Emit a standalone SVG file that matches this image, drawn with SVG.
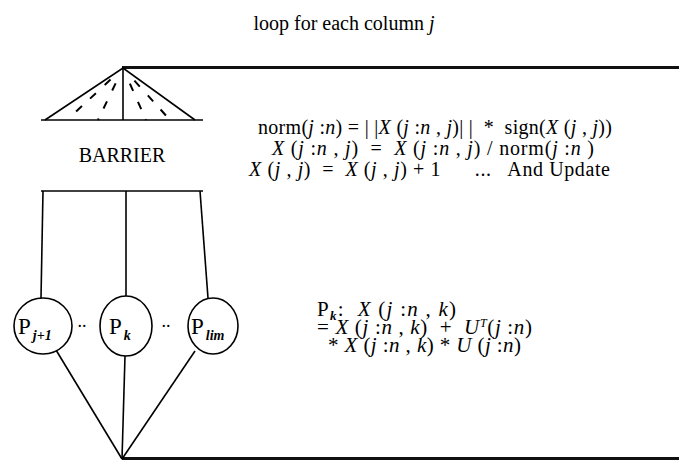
<svg xmlns="http://www.w3.org/2000/svg" width="679" height="461" viewBox="0 0 679 461" xml:space="preserve">
<style>
text{font-family:"Liberation Serif","Times New Roman",serif;fill:#000;white-space:pre}
.t{font-size:20px}
.f{font-size:20px}
.g{font-size:21px}
.i{font-style:italic}
.ln{stroke:#000;stroke-width:1.6;fill:none}
.thick{stroke:#111;stroke-width:3.2;fill:none}
.dash{stroke:#000;stroke-width:2;stroke-dasharray:0 17 8 12 8 11 8 100;fill:none}
.el{stroke:#000;stroke-width:1.6;fill:#fff}
</style>
<rect width="679" height="461" fill="#fff"/>
<text class="t" x="344" y="30" text-anchor="middle">loop for each column <tspan class="i">j</tspan></text>
<g id="loop-lines">
<line class="thick" x1="122" y1="67.5" x2="679" y2="67.5"/>
<line class="thick" x1="122" y1="458.5" x2="679" y2="458.5"/>
</g>
<g id="barrier">
<polyline class="ln" points="45,120 123,68 195,120"/>
<line class="ln" x1="123" y1="68" x2="123" y2="120"/>
<line class="ln" x1="41" y1="120" x2="203" y2="120"/>
<line class="dash" x1="123" y1="68" x2="67" y2="120"/>
<line class="dash" x1="123" y1="68" x2="98" y2="120"/>
<line class="dash" x1="123" y1="68" x2="146" y2="120"/>
<line class="dash" x1="123" y1="68" x2="170" y2="120"/>
<text class="t" x="122" y="162" text-anchor="middle">BARRIER</text>
</g>
<g id="connectors">
<line class="ln" x1="41" y1="191" x2="203" y2="191"/>
<line class="ln" x1="43" y1="191" x2="41" y2="298"/>
<line class="ln" x1="126" y1="191" x2="126" y2="296"/>
<line class="ln" x1="200" y1="191" x2="208" y2="298"/>
<line class="ln" x1="56" y1="350" x2="122" y2="459"/>
<line class="ln" x1="125" y1="356" x2="122" y2="459"/>
<line class="ln" x1="195" y1="351" x2="122" y2="459"/>
</g>
<g id="p-j1">
<ellipse class="el" cx="43" cy="326" rx="29" ry="28"/>
<text x="18" y="334" font-size="23">P<tspan class="i" font-size="14" font-weight="bold" dx="2" dy="6">j+1</tspan></text>
</g>
<text x="82" y="327" font-size="18" text-anchor="middle">..</text>
<g id="p-k">
<ellipse class="el" cx="126" cy="326" rx="26" ry="30"/>
<text x="109" y="334" font-size="23">P<tspan class="i" font-size="14" font-weight="bold" dx="2" dy="6">k</tspan></text>
</g>
<text x="166" y="327" font-size="18" text-anchor="middle">..</text>
<g id="p-lim">
<ellipse class="el" cx="213" cy="326" rx="25" ry="28"/>
<text x="191" y="334" font-size="23">P<tspan class="i" font-size="14" font-weight="bold" dx="2" dy="6">lim</tspan></text>
</g>
<g id="formulas">
<text class="f" x="258" y="134" textLength="354" lengthAdjust="spacing">norm(<tspan class="i">j</tspan> :<tspan class="i">n</tspan>) = | |<tspan class="i">X</tspan> (<tspan class="i">j</tspan> :<tspan class="i">n</tspan> , <tspan class="i">j</tspan>)| |  *  sign(<tspan class="i">X</tspan> (<tspan class="i">j</tspan> , <tspan class="i">j</tspan>))</text>
<text class="f" x="272" y="155" textLength="322" lengthAdjust="spacing"><tspan class="i">X</tspan> (<tspan class="i">j</tspan> :<tspan class="i">n</tspan> , <tspan class="i">j</tspan>)  =  <tspan class="i">X</tspan> (<tspan class="i">j</tspan> :<tspan class="i">n</tspan> , <tspan class="i">j</tspan>) / norm(<tspan class="i">j</tspan> :<tspan class="i">n</tspan> )</text>
<text class="f" x="249" y="176" textLength="361" lengthAdjust="spacing"><tspan class="i">X</tspan> (<tspan class="i">j</tspan> , <tspan class="i">j</tspan>)  =  <tspan class="i">X</tspan> (<tspan class="i">j</tspan> , <tspan class="i">j</tspan>) + 1      ...   And Update</text>
</g>
<g id="pk-formula">
<text class="g" x="317" y="316" textLength="139" lengthAdjust="spacing">P<tspan class="i" font-size="13" font-weight="bold" dy="4">k</tspan><tspan dy="-4">:  </tspan><tspan class="i">X</tspan> (<tspan class="i">j</tspan> :<tspan class="i">n</tspan> , <tspan class="i">k</tspan>)</text>
<text class="g" x="317" y="334" textLength="215" lengthAdjust="spacing">= <tspan class="i">X</tspan> (<tspan class="i">j</tspan> :<tspan class="i">n</tspan> , <tspan class="i">k</tspan>)  +  <tspan class="i">U</tspan><tspan class="i" font-size="12" dy="-7">T</tspan><tspan dy="7">(</tspan><tspan class="i">j</tspan> :<tspan class="i">n</tspan>)</text>
<text class="g" x="328" y="352" textLength="193" lengthAdjust="spacing">* <tspan class="i">X</tspan> (<tspan class="i">j</tspan> :<tspan class="i">n</tspan> , <tspan class="i">k</tspan>) * <tspan class="i">U</tspan> (<tspan class="i">j</tspan> :<tspan class="i">n</tspan>)</text>
</g>
</svg>
